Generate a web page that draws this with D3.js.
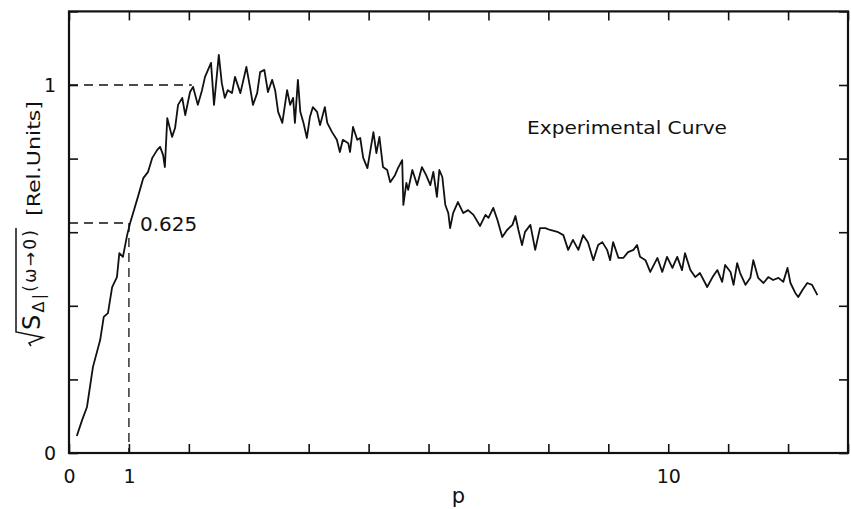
<!DOCTYPE html>
<html><head><meta charset="utf-8">
<script src="https://cdn.jsdelivr.net/npm/d3@7"></script>
<style>
body{margin:0;background:#fff}
svg{display:block}
text{font-family:"DejaVu Sans",sans-serif;fill:#111}
</style>
</head><body>
<svg id="c" width="851" height="509"></svg>
<script>
// ---- data ----
const pValues = [0.13,0.22,0.30,0.40,0.52,0.58,0.65,0.72,0.80,0.84,0.90,0.97,1.02,1.07,1.15,1.24,1.32,1.39,1.47,1.52,1.57,1.60,1.64,1.72,1.77,1.82,1.89,1.94,2.02,2.07,2.15,2.22,2.27,2.37,2.42,2.50,2.55,2.60,2.65,2.72,2.77,2.86,2.96,3.02,3.07,3.14,3.19,3.26,3.32,3.39,3.44,3.49,3.56,3.64,3.69,3.74,3.77,3.82,3.86,3.91,3.97,4.02,4.07,4.14,4.19,4.27,4.31,4.39,4.47,4.52,4.57,4.66,4.69,4.74,4.81,4.86,4.91,4.98,5.03,5.08,5.13,5.18,5.24,5.31,5.36,5.44,5.49,5.56,5.58,5.63,5.66,5.73,5.81,5.89,5.96,6.03,6.08,6.14,6.18,6.23,6.28,6.33,6.36,6.41,6.49,6.58,6.66,6.75,6.86,6.95,7.00,7.08,7.15,7.23,7.31,7.40,7.45,7.50,7.56,7.61,7.70,7.78,7.86,7.95,8.03,8.15,8.25,8.33,8.41,8.50,8.58,8.66,8.75,8.83,8.90,8.98,9.03,9.08,9.17,9.25,9.33,9.42,9.48,9.53,9.62,9.70,9.82,9.90,9.98,10.07,10.15,10.23,10.28,10.37,10.45,10.53,10.65,10.74,10.82,10.90,10.95,11.04,11.09,11.15,11.20,11.29,11.37,11.42,11.50,11.59,11.67,11.75,11.84,11.92,11.99,12.04,12.12,12.17,12.24,12.32,12.40,12.49];
const sqrtS = [0.046,0.090,0.125,0.234,0.307,0.370,0.380,0.451,0.478,0.543,0.533,0.592,0.625,0.652,0.696,0.747,0.764,0.802,0.823,0.832,0.810,0.777,0.910,0.859,0.883,0.946,0.965,0.918,0.981,0.995,0.946,0.986,1.022,1.060,0.946,1.082,1.005,0.965,0.986,0.978,1.022,0.978,1.049,0.995,0.946,0.978,1.035,1.041,0.981,1.014,0.986,0.927,0.897,0.986,0.946,0.965,0.897,1.014,0.927,0.899,0.856,0.913,0.940,0.927,0.891,0.940,0.897,0.872,0.851,0.818,0.851,0.842,0.818,0.886,0.851,0.856,0.802,0.774,0.823,0.872,0.815,0.859,0.777,0.769,0.736,0.755,0.774,0.796,0.674,0.734,0.715,0.769,0.728,0.777,0.755,0.728,0.764,0.696,0.769,0.750,0.674,0.652,0.611,0.652,0.682,0.652,0.660,0.647,0.617,0.647,0.639,0.666,0.633,0.587,0.606,0.620,0.644,0.606,0.565,0.601,0.620,0.552,0.611,0.611,0.606,0.601,0.592,0.552,0.579,0.552,0.592,0.573,0.524,0.565,0.573,0.552,0.524,0.573,0.530,0.530,0.546,0.552,0.565,0.533,0.524,0.492,0.530,0.492,0.533,0.503,0.533,0.497,0.543,0.497,0.478,0.489,0.451,0.478,0.497,0.465,0.511,0.492,0.457,0.516,0.489,0.457,0.476,0.524,0.476,0.462,0.478,0.470,0.476,0.465,0.503,0.462,0.435,0.424,0.443,0.462,0.457,0.429];
const xTickValues = [0,1,2,3,4,5,6,7,8,9,10,11,12,13];
const xTickLabels = ["0","1","","","","","","","","","10","","",""];
const yTickValues = [0,0.2,0.4,0.6,0.8,1.0,1.2];
const yTickLabels = ["0","","","","","1",""];
const xDomain = [0,13];
const yDomain = [0,1.2];
const markValue = 0.625, markP = 1;
const unitLevel = 1, unitLevelEndP = 2.05;
const curveTitle = "Experimental Curve";
const xTitle = "p";

// ---- drawing ----
const svg = d3.select("#c");
const L = 69, R = 848, T = 11.4, B = 453;
const x = d3.scaleLinear().domain(xDomain).range([L, R]);
const y = d3.scaleLinear().domain(yDomain).range([B, T]);
const ink = "#111";

function fmt(vals, labels){ return d => labels[vals.indexOf(d)] ?? ""; }

const gB = svg.append("g").attr("transform",`translate(0,${B})`)
  .call(d3.axisBottom(x).tickValues(xTickValues).tickSize(-9).tickPadding(17).tickFormat(fmt(xTickValues,xTickLabels)));
const gT = svg.append("g").attr("transform",`translate(0,${T})`)
  .call(d3.axisTop(x).tickValues(xTickValues).tickSize(-9).tickFormat(""));
const gL = svg.append("g").attr("transform",`translate(${L},0)`)
  .call(d3.axisLeft(y).tickValues(yTickValues).tickSize(-9).tickPadding(13).tickFormat(fmt(yTickValues,yTickLabels)));
const gR = svg.append("g").attr("transform",`translate(${R},0)`)
  .call(d3.axisRight(y).tickValues(yTickValues).tickSize(-9).tickFormat(""));
[gB,gT,gL,gR].forEach(g=>{
  g.select(".domain").remove();
  g.selectAll(".tick line").attr("stroke",ink).attr("stroke-width",1.6);
  g.selectAll(".tick text").attr("fill",ink).attr("font-size",19).attr("font-family","DejaVu Sans, sans-serif");
});

svg.append("rect").attr("x",L).attr("y",T).attr("width",R-L).attr("height",B-T)
  .attr("fill","none").attr("stroke",ink).attr("stroke-width",2.2);

// dashed reference lines
const dash = "9,6";
svg.append("line").attr("x1",x(0)).attr("x2",x(unitLevelEndP)).attr("y1",y(unitLevel)).attr("y2",y(unitLevel))
  .attr("stroke",ink).attr("stroke-width",1.3).attr("stroke-dasharray",dash);
svg.append("line").attr("x1",x(0)).attr("x2",x(markP)).attr("y1",y(markValue)).attr("y2",y(markValue))
  .attr("stroke",ink).attr("stroke-width",1.3).attr("stroke-dasharray",dash);
svg.append("line").attr("x1",x(markP)).attr("x2",x(markP)).attr("y1",y(markValue)).attr("y2",y(0))
  .attr("stroke",ink).attr("stroke-width",1.3).attr("stroke-dasharray",dash);

// curve
const pts = pValues.map((p,i)=>[p, sqrtS[i]]);
svg.append("path").datum(pts)
  .attr("d", d3.line().x(d=>x(d[0])).y(d=>y(d[1])))
  .attr("fill","none").attr("stroke",ink).attr("stroke-width",1.8).attr("stroke-linejoin","round");

// annotations
svg.append("text").attr("x",x(markP)+11).attr("y",y(markValue)+8).attr("font-size",20).text(String(markValue));
svg.append("text").attr("x",527).attr("y",134).attr("font-size",18)
  .attr("textLength",200).attr("lengthAdjust","spacingAndGlyphs").text(curveTitle);
svg.append("text").attr("x",(L+R)/2).attr("y",503).attr("text-anchor","middle").attr("font-size",21).text(xTitle);

// y-axis title (rotated)
const gl = svg.append("g").attr("transform","translate(40,346) rotate(-90)");
const rad = gl.append("text").attr("x",16).attr("y",0);
rad.append("tspan").attr("font-size",24).text("S");
rad.append("tspan").attr("font-size",16).attr("dy",4).text("Δ|");
rad.append("tspan").attr("font-size",17).attr("dy",-8).text("(ω→0)");
let w = rad.node().getComputedTextLength();
const radTarget = 100;
if (w < radTarget) { rad.attr("textLength", radTarget).attr("lengthAdjust","spacing"); w = radTarget; }
gl.append("path").attr("d",`M0,-9 L3,-11 L8.5,3 L14,-24 L${16+w+2},-24`)
  .attr("fill","none").attr("stroke",ink).attr("stroke-width",1.5);
gl.append("text").attr("x",16+w+14).attr("y",0).attr("font-size",18)
  .attr("textLength",115).attr("lengthAdjust","spacingAndGlyphs").text("[Rel.Units]");
</script>
</body></html>
